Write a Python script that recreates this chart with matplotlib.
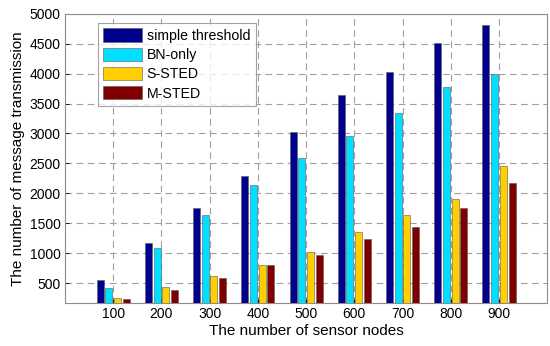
import matplotlib
matplotlib.use("Agg")
import matplotlib.pyplot as plt
import numpy as np

plt.rcParams['font.family'] = ['Liberation Sans', 'DejaVu Sans']

nodes = [100, 200, 300, 400, 500, 600, 700, 800, 900]
simple_threshold = [545, 1170, 1750, 2290, 3030, 3640, 4030, 4515, 4810]
bn_only = [410, 1090, 1640, 2140, 2590, 2960, 3350, 3770, 4000]
s_sted = [250, 430, 620, 800, 1020, 1345, 1640, 1910, 2450]
m_sted = [230, 390, 590, 800, 960, 1235, 1430, 1750, 2170]

series = [
    ("simple threshold", simple_threshold, "#00008F"),
    ("BN-only", bn_only, "#00DFFF"),
    ("S-STED", s_sted, "#FFCF00"),
    ("M-STED", m_sted, "#800000"),
]

fig = plt.figure(figsize=(5.5, 3.46), dpi=100)
ax = fig.add_axes([0.118, 0.125, 0.877, 0.835])

x = np.array(nodes, dtype=float)
width = 14.5
offsets = [-27, -9, 9, 27]
for (label, vals, color), off in zip(series, offsets):
    ax.bar(x + off, vals, width=width, color=color, edgecolor="#5a5a5a",
           linewidth=0.4, label=label, zorder=3)

ax.set_xlim(0, 1000)
ax.set_ylim(170, 5000)
ax.set_xticks(nodes)
ax.set_yticks(np.arange(500, 5001, 500))
ax.tick_params(direction="in", length=3, labelsize=10, colors="#000000", width=0.6, pad=3)
for s in ax.spines.values():
    s.set_color("#8c8c8c")
    s.set_linewidth(0.8)
ax.grid(True, linestyle=(0, (6, 4)), color="#a0a0a0", linewidth=0.8, zorder=0)
ax.set_axisbelow(True)

ax.set_xlabel("The number of sensor nodes", fontsize=11, labelpad=2)
ax.set_ylabel("The number of message transmission", fontsize=11, labelpad=3)

leg = ax.legend(loc="upper left", bbox_to_anchor=(0.068, 0.969), fontsize=10.2,
                frameon=True, fancybox=False, handlelength=2.75, handleheight=1.05,
                handletextpad=0.3, labelspacing=0.34, borderpad=0.4, borderaxespad=0)
leg.get_frame().set_edgecolor("#8c8c8c")
leg.get_frame().set_linewidth(0.8)

fig.savefig("out.png", dpi=100)
